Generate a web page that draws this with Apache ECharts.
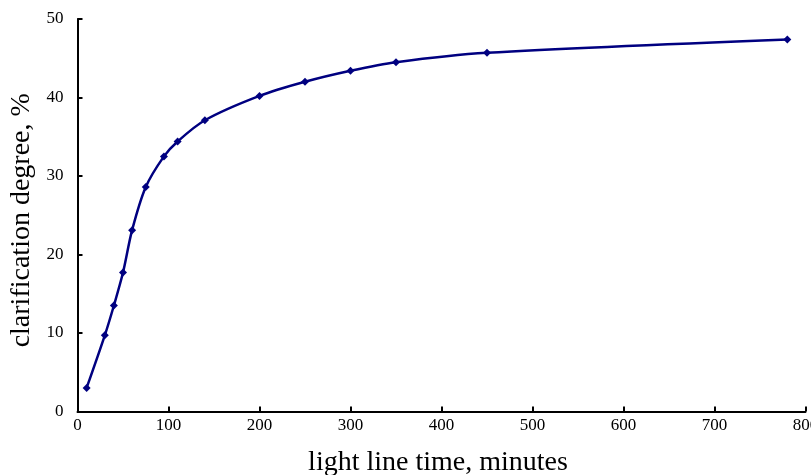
<!DOCTYPE html>
<html>
<head>
<meta charset="utf-8">
<script src="https://cdn.jsdelivr.net/npm/echarts@6/dist/echarts.min.js"></script>
<style>
  html, body { margin: 0; padding: 0; background: #fff; }
  #chart { width: 811px; height: 475px; }
</style>
</head>
<body>
<div id="chart"></div>
<script>
// light line time, minutes
const timeMinutes = [10, 30, 40, 50, 60, 75, 95, 110, 140, 200, 250, 300, 350, 450, 780]
// clarification degree, %
const clarification = [3.0, 9.7, 13.5, 17.7, 23.1, 28.6, 32.5, 34.4, 37.1, 40.2, 42.0, 43.4, 44.5, 45.7, 47.4]

const xTitle = 'light line time, minutes'
const yTitle = 'clarification degree, %'

const serif = '"Liberation Serif", "Times New Roman", serif'

const chart = echarts.init(document.getElementById('chart'))

chart.setOption({
    animation: false,
    grid: {
        left: 77.5,
        right: 5.5,
        top: 19,
        bottom: 63.5,
        outerBoundsMode: 'none'
    },
    xAxis: {
        type: 'value',
        min: 0,
        max: 800,
        interval: 100,
        name: xTitle,
        nameLocation: 'middle',
        nameGap: 37,
        nameTextStyle: {
            fontFamily: serif,
            fontSize: 28,
            color: '#000',
            padding: [0, 7, 0, 0]
        },
        axisLine: { lineStyle: { color: '#000', width: 2 } },
        axisTick: { inside: true, length: 5, lineStyle: { color: '#000', width: 2 } },
        axisLabel: { fontFamily: serif, fontSize: 17, color: '#000', margin: 6 },
        splitLine: { show: false }
    },
    yAxis: {
        type: 'value',
        min: 0,
        max: 50,
        interval: 10,
        name: yTitle,
        nameLocation: 'middle',
        nameGap: 38,
        nameTextStyle: {
            fontFamily: serif,
            fontSize: 28,
            color: '#000',
            padding: [0, 10, 0, 0]
        },
        axisLine: { show: true, lineStyle: { color: '#000', width: 2 } },
        axisTick: { show: true, inside: true, length: 5, lineStyle: { color: '#000', width: 2 } },
        axisLabel: { fontFamily: serif, fontSize: 17, color: '#000', margin: 14 },
        splitLine: { show: false }
    },
    series: [{
        type: 'line',
        data: timeMinutes.map((t, i) => [t, clarification[i]]),
        smooth: 0.3,
        symbol: 'diamond',
        symbolSize: 8,
        lineStyle: { color: '#000080', width: 2.5 },
        itemStyle: { color: '#000080' }
    }]
})
</script>
</body>
</html>
